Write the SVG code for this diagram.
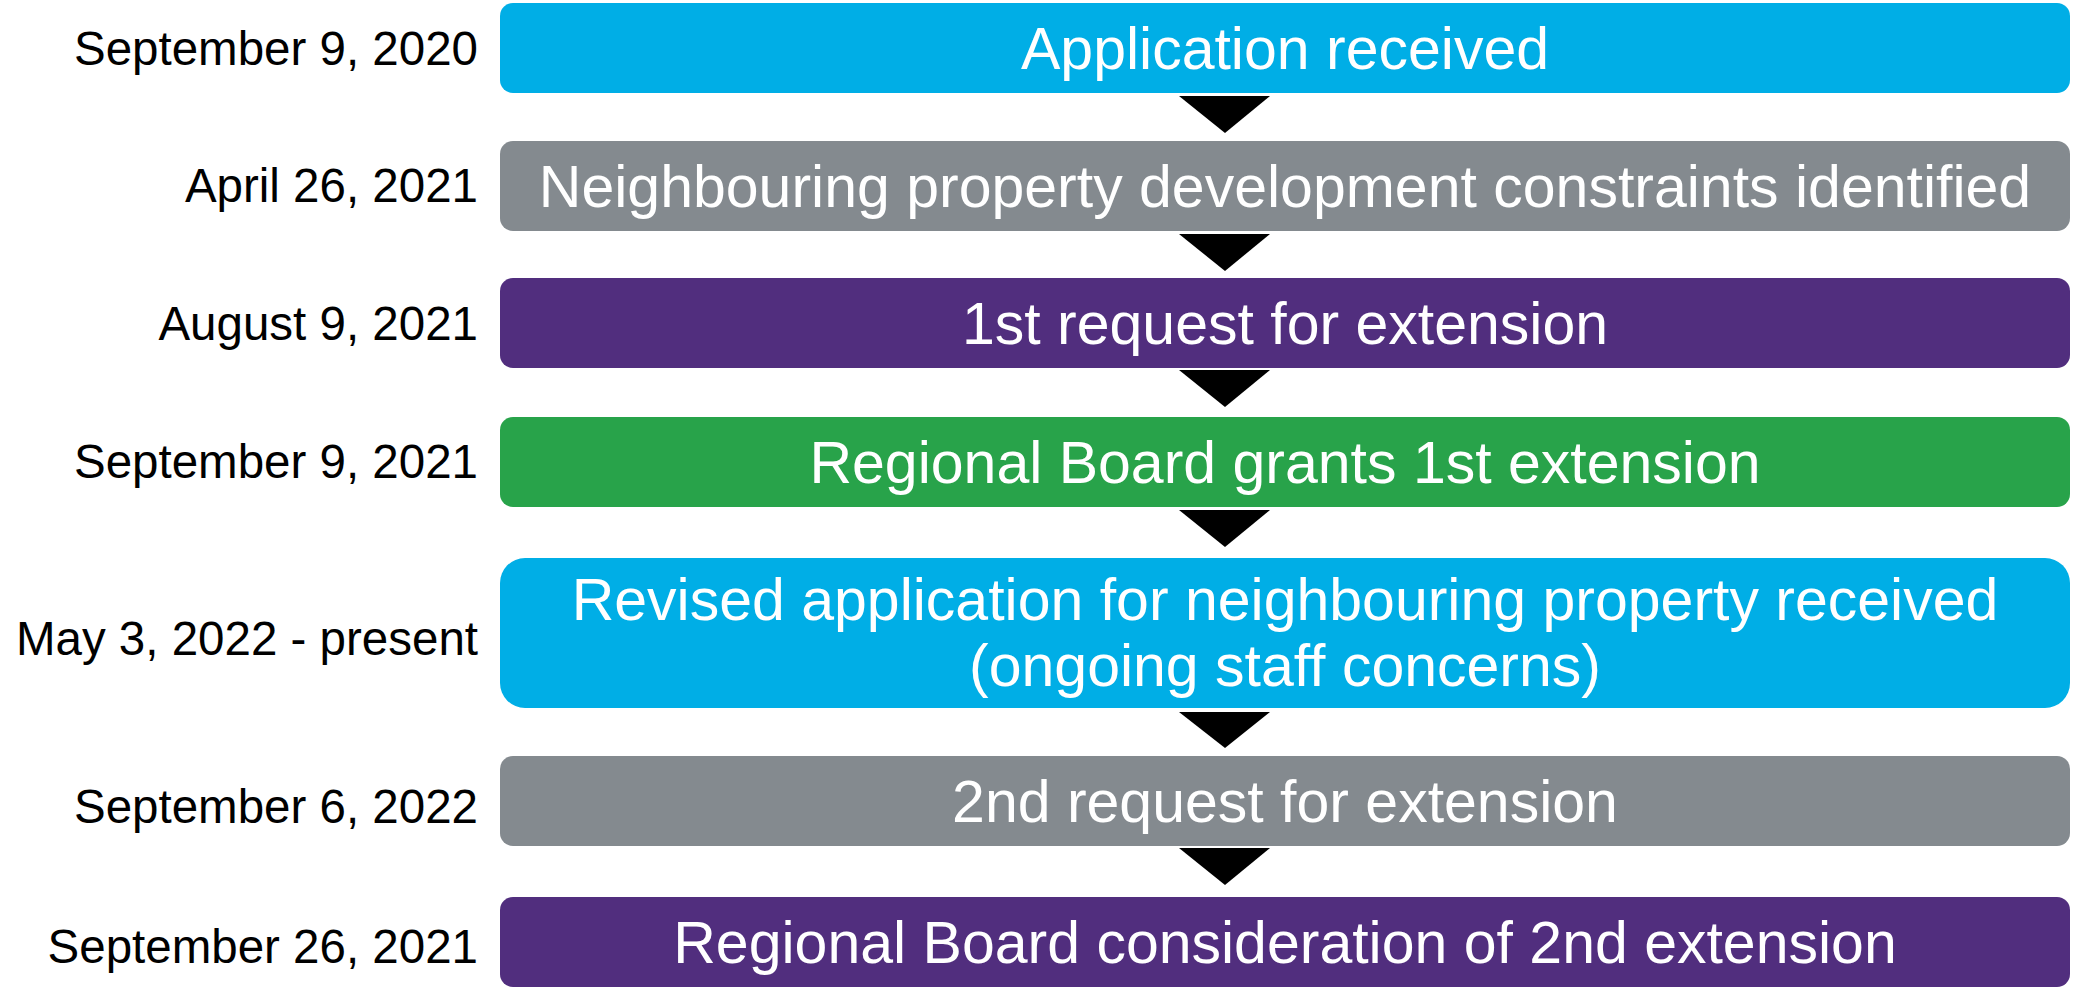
<svg xmlns="http://www.w3.org/2000/svg" width="2075" height="987" viewBox="0 0 2075 987">
<style>
.box{stroke:none}
.blue{fill:#00AEE6}
.gray{fill:#848A8F}
.purple{fill:#512E7E}
.green{fill:#28A34A}
.lbl{font-family:"Liberation Sans",Arial,sans-serif;font-size:59px;fill:#FFFFFF;text-anchor:middle}
.date{font-family:"Liberation Sans",Arial,sans-serif;font-size:47.5px;fill:#000000;text-anchor:end}
.arr{fill:#000000}
</style>
<rect width="2075" height="987" fill="#FFFFFF"/>
<g id="connectors">
<polygon class="arr" points="1179,96 1270,96 1225,133"/>
<polygon class="arr" points="1179,234 1270,234 1225,271"/>
<polygon class="arr" points="1179,370 1270,370 1225,407"/>
<polygon class="arr" points="1179,510 1270,510 1225,547"/>
<polygon class="arr" points="1179,712 1270,712 1225,748"/>
<polygon class="arr" points="1179,848 1270,848 1225,885"/>
</g>
<g id="n1">
<rect class="box blue" x="500" y="3" width="1570" height="90" rx="13"/>
<text class="lbl" x="1285" y="69">Application received</text>
<text class="date" x="478" y="65">September 9, 2020</text>
</g>
<g id="n2">
<rect class="box gray" x="500" y="141" width="1570" height="90" rx="13"/>
<text class="lbl" x="1285" y="207">Neighbouring property development constraints identified</text>
<text class="date" x="478" y="202">April 26, 2021</text>
</g>
<g id="n3">
<rect class="box purple" x="500" y="278" width="1570" height="90" rx="13"/>
<text class="lbl" x="1285" y="344">1st request for extension</text>
<text class="date" x="478" y="340">August 9, 2021</text>
</g>
<g id="n4">
<rect class="box green" x="500" y="417" width="1570" height="90" rx="13"/>
<text class="lbl" x="1285" y="483">Regional Board grants 1st extension</text>
<text class="date" x="478" y="478">September 9, 2021</text>
</g>
<g id="n5">
<rect class="box blue" x="500" y="558" width="1570" height="150" rx="25"/>
<text class="lbl" x="1285" y="620">Revised application for neighbouring property received</text>
<text class="lbl" x="1285" y="686">(ongoing staff concerns)</text>
<text class="date" x="478" y="655">May 3, 2022 - present</text>
</g>
<g id="n6">
<rect class="box gray" x="500" y="756" width="1570" height="90" rx="13"/>
<text class="lbl" x="1285" y="822">2nd request for extension</text>
<text class="date" x="478" y="823">September 6, 2022</text>
</g>
<g id="n7">
<rect class="box purple" x="500" y="897" width="1570" height="90" rx="13"/>
<text class="lbl" x="1285" y="963">Regional Board consideration of 2nd extension</text>
<text class="date" x="478" y="963">September 26, 2021</text>
</g>
</svg>
